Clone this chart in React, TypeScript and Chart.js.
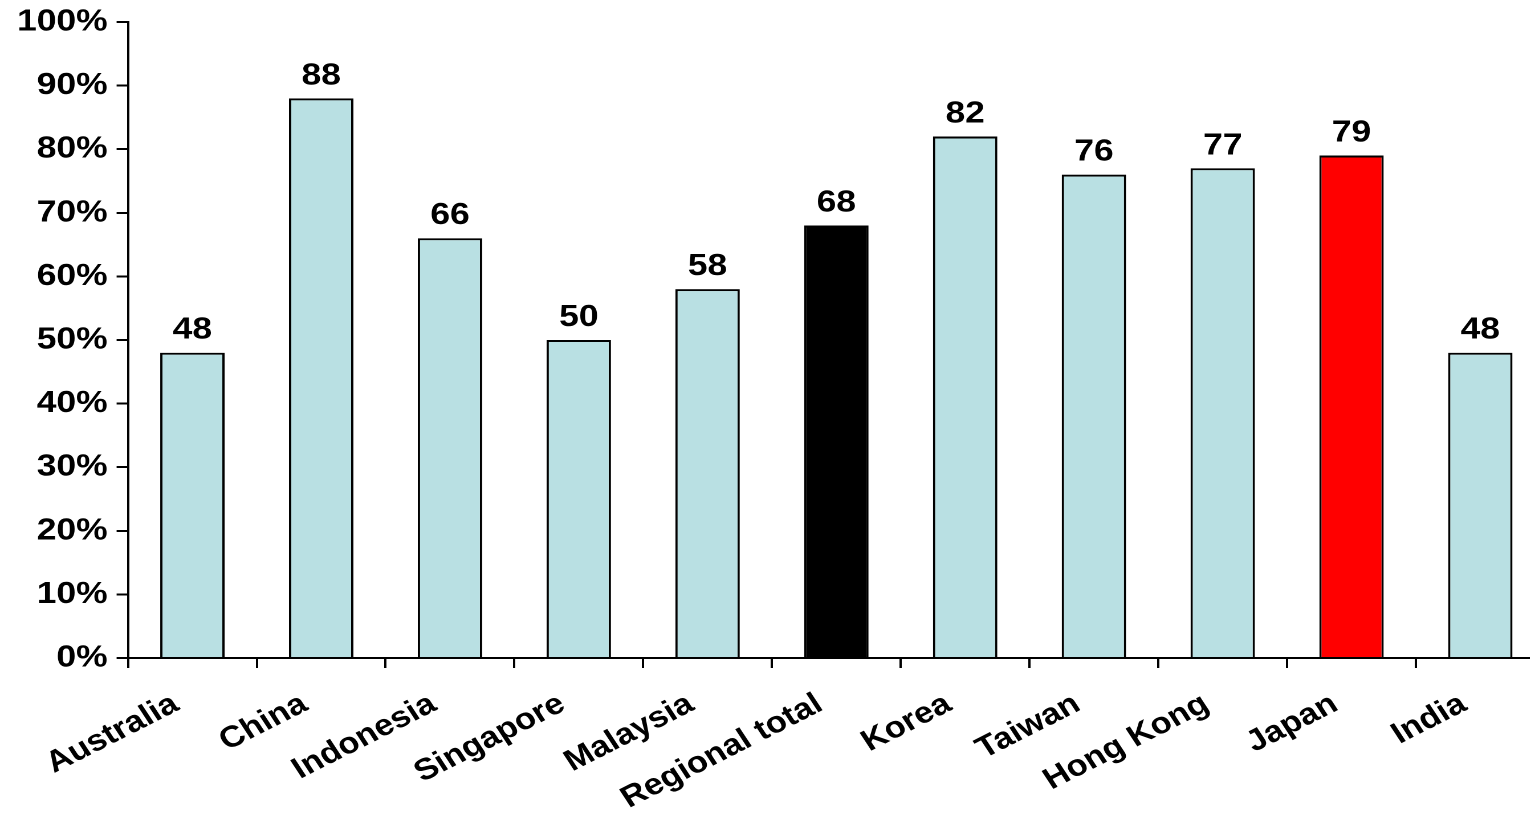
import React, { useEffect, useRef } from "react";
import { Chart, registerables } from "chart.js";

Chart.register(...registerables);

const categories = [
  "Australia",
  "China",
  "Indonesia",
  "Singapore",
  "Malaysia",
  "Regional total",
  "Korea",
  "Taiwan",
  "Hong Kong",
  "Japan",
  "India",
];
const values = [48, 88, 66, 50, 58, 68, 82, 76, 77, 79, 48];
const barColors = [
  "#B9E0E3",
  "#B9E0E3",
  "#B9E0E3",
  "#B9E0E3",
  "#B9E0E3",
  "#000000",
  "#B9E0E3",
  "#B9E0E3",
  "#B9E0E3",
  "#FF0000",
  "#B9E0E3",
];

const FONT = "'Liberation Sans', Arial, sans-serif";
const SX = 1.14; // horizontal stretch of the original picture
const CANVAS_W = Math.round(1545 / SX);

const valueLabels = {
  id: "valueLabels",
  afterDatasetsDraw(chart: any) {
    const ctx = chart.ctx;
    const meta = chart.getDatasetMeta(0);
    ctx.save();
    ctx.font = `bold 31px ${FONT}`;
    ctx.fillStyle = "#000";
    ctx.textAlign = "center";
    ctx.textBaseline = "alphabetic";
    meta.data.forEach((el: any, i: number) => {
      ctx.fillText(String(values[i]), el.x, el.y - 14);
    });
    ctx.restore();
  },
};

export default function App() {
  const ref = useRef<HTMLCanvasElement | null>(null);
  useEffect(() => {
    if (!ref.current) return;
    const chart = new Chart(ref.current, {
      type: "bar",
      data: {
        labels: categories,
        datasets: [
          {
            data: values,
            backgroundColor: barColors,
            borderColor: "#000",
            borderWidth: 2,
            categoryPercentage: 1,
            barPercentage: 0.5,
          },
        ],
      },
      options: {
        animation: false,
        responsive: false,
        maintainAspectRatio: false,
        devicePixelRatio: 2,
        layout: { padding: { top: 22, left: 0, right: 0, bottom: 0 } },
        plugins: { legend: { display: false }, tooltip: { enabled: false } },
        scales: {
          x: {
            afterFit: (s: any) => {
              s.height = 155;
              s.paddingLeft = 0;
              s.paddingRight = 0;
            },
            grid: {
              offset: true,
              drawOnChartArea: false,
              drawTicks: true,
              tickLength: 10,
              color: "#000",
              lineWidth: 2,
            },
            border: { display: true, color: "#000", width: 2 },
            ticks: {
              autoSkip: false,
              minRotation: 30,
              maxRotation: 30,
              color: "#000",
              padding: 10,
              font: { family: FONT, size: 30, weight: "bold" },
              callback: (_v: any, i: number) => categories[i] + "  ",
            },
          },
          y: {
            min: 0,
            max: 100,
            afterFit: (s: any) => {
              s.width = 128 / SX;
              s.paddingTop = 0;
              s.paddingBottom = 0;
            },
            grid: {
              drawOnChartArea: false,
              drawTicks: true,
              tickLength: 10,
              color: "#000",
              lineWidth: 2,
            },
            border: { display: true, color: "#000", width: 2 },
            ticks: {
              stepSize: 10,
              color: "#000",
              padding: 8,
              font: { family: FONT, size: 31, weight: "bold" },
              callback: (v: any) => v + "%",
            },
          },
        },
      },
      plugins: [valueLabels],
    });
    return () => chart.destroy();
  }, []);
  return (
    <div
      style={{
        position: "absolute",
        left: 0,
        top: 0,
        width: 1530,
        height: 813,
        overflow: "hidden",
        background: "#fff",
      }}
    >
      <div style={{ transform: `scaleX(${SX})`, transformOrigin: "0 0", width: CANVAS_W, height: 813 }}>
        <canvas
          ref={ref}
          style={{ display: "block", width: CANVAS_W, height: 813 }}
          width={CANVAS_W}
          height={813}
        />
      </div>
    </div>
  );
}
